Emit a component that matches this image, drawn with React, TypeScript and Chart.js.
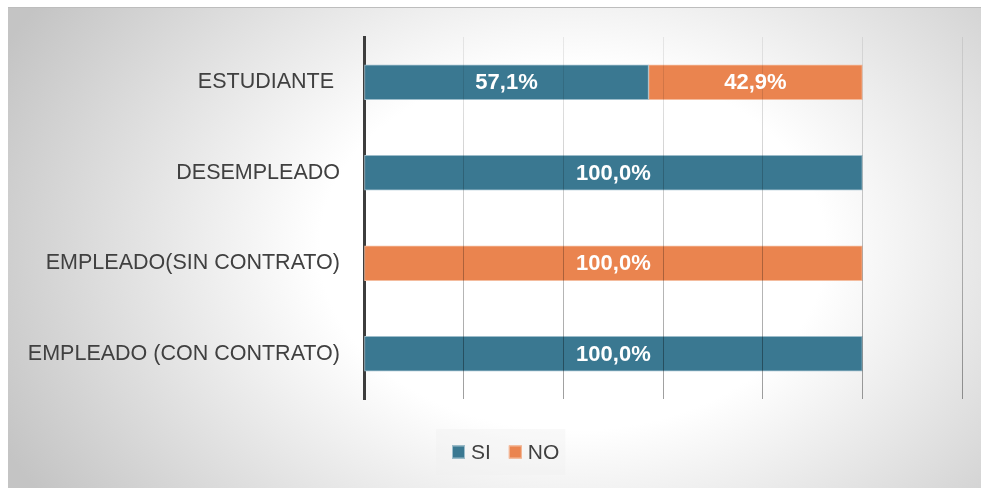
import React, { useEffect, useRef } from 'react';
import { Chart, registerables } from 'chart.js';

Chart.register(...registerables);

// ---- data ----
const categories = ['ESTUDIANTE ', 'DESEMPLEADO', 'EMPLEADO(SIN CONTRATO)', 'EMPLEADO (CON CONTRATO)'];
const seriesNames = ['SI', 'NO'];
const siValues = [57.1, 100, 0, 100];
const noValues = [42.9, 0, 100, 0];
const axisMin = 0;
const axisMax = 120;
const axisStep = 20;

// ---- styles ----
const FONT = "'Liberation Sans', Arial, sans-serif";
const TEAL = '#3A7891';
const TEAL_EDGE = '#9dbdcb';
const ORANGE = '#EA844F';
const ORANGE_EDGE = '#f4bc9e';
const TEXT = '#404040';

const W = 973;
const H = 480;

const barLabelPlugin = {
  id: 'barLabels',
  afterDraw(chart: any) {
    const { ctx } = chart;
    ctx.save();
    ctx.font = `bold 22px ${FONT}`;
    ctx.fillStyle = '#ffffff';
    ctx.textAlign = 'center';
    ctx.textBaseline = 'middle';
    chart.data.datasets.forEach((ds: any, di: number) => {
      const meta = chart.getDatasetMeta(di);
      meta.data.forEach((el: any, i: number) => {
        const v = ds.data[i];
        if (!v) return;
        const p = el.getCenterPoint();
        ctx.fillText(v.toFixed(1).replace('.', ',') + '%', p.x, p.y + 1);
      });
    });
    ctx.restore();
  },
};

const boxLegendPlugin = {
  id: 'boxLegend',
  afterDraw(chart: any) {
    const { ctx } = chart;
    ctx.save();
    ctx.font = `21px ${FONT}`;
    const box = 13;
    const gap = 6;
    const itemGap = 18;
    const items = chart.data.datasets.map((ds: any) => ({
      text: ds.label,
      fill: ds.backgroundColor,
      edge: ds.borderColor,
      w: box + gap + ctx.measureText(ds.label).width,
    }));
    const total = items.reduce((a: number, it: any) => a + it.w, 0) + itemGap * (items.length - 1);
    const startX = 444;
    const cy = 444;
    // legend background box
    ctx.fillStyle = 'rgba(240,240,240,0.4)';
    ctx.fillRect(startX - 16, cy - 23, total + 22, 46);
    let x = startX;
    ctx.textBaseline = 'middle';
    ctx.textAlign = 'left';
    items.forEach((it: any) => {
      ctx.fillStyle = it.fill;
      ctx.fillRect(x, cy - box / 2, box, box);
      ctx.strokeStyle = it.edge;
      ctx.lineWidth = 1;
      ctx.strokeRect(x + 0.5, cy - box / 2 + 0.5, box - 1, box - 1);
      ctx.fillStyle = TEXT;
      ctx.fillText(it.text, x + box + gap, cy + 1);
      x += it.w + itemGap;
    });
    ctx.restore();
  },
};

export default function App() {
  const ref = useRef<HTMLCanvasElement | null>(null);

  useEffect(() => {
    if (!ref.current) return;
    const chart = new Chart(ref.current, {
      type: 'bar',
      data: {
        labels: categories,
        datasets: [
          {
            label: seriesNames[0],
            data: siValues,
            backgroundColor: TEAL,
            borderColor: TEAL_EDGE,
            borderWidth: 1,
            borderSkipped: false,
            barThickness: 35,
          },
          {
            label: seriesNames[1],
            data: noValues,
            backgroundColor: ORANGE,
            borderColor: ORANGE_EDGE,
            borderWidth: 1,
            borderSkipped: false,
            barThickness: 35,
          },
        ],
      },
      options: {
        indexAxis: 'y',
        responsive: false,
        animation: false,
        devicePixelRatio: 1,
        layout: { padding: { left: 0, right: 19, top: 29, bottom: 89 } },
        plugins: {
          legend: { display: false },
          tooltip: { enabled: false },
        },
        scales: {
          x: {
            stacked: true,
            min: axisMin,
            max: axisMax,
            ticks: { display: false, stepSize: axisStep },
            border: { display: false },
            grid: {
              drawTicks: false,
              z: 1,
              lineWidth: 1,
              color: (c: any) => {
                if (c.index === 0) return 'rgba(0,0,0,0)';
                const area = c.chart.chartArea;
                if (!area) return 'rgba(0,0,0,0.2)';
                const g = c.chart.ctx.createLinearGradient(0, area.top, 0, area.bottom);
                g.addColorStop(0, 'rgba(0,0,0,0.07)');
                g.addColorStop(1, 'rgba(0,0,0,0.38)');
                return g;
              },
            },
            afterFit: (s: any) => {
              s.height = 0;
              s.paddingLeft = 0;
              s.paddingRight = 0;
            },
          },
          y: {
            stacked: true,
            grid: { display: false, drawTicks: false },
            border: { display: true, color: '#3d3d3d', width: 3 },
            ticks: {
              padding: 24,
              color: TEXT,
              font: { family: FONT, size: 21.5 },
            },
            afterFit: (s: any) => {
              s.width = 356;
              s.paddingTop = 0;
              s.paddingBottom = 0;
            },
          },
        },
      },
      plugins: [barLabelPlugin, boxLegendPlugin],
    } as any);
    return () => chart.destroy();
  }, []);

  return (
    <div
      style={{
        position: 'fixed',
        left: 8,
        top: 7,
        width: W,
        height: H + 1,
        boxSizing: 'border-box',
        borderTop: '1px solid #bdbdbd',
        overflow: 'hidden',
        background:
          'radial-gradient(ellipse 65% 95% at 58% 50%, #ffffff 0%, #ffffff 40%, #c4c4c4 100%)',
      }}
    >
      <canvas
        ref={ref}
        width={W}
        height={H}
        style={{ position: 'absolute', left: 0, top: 0, width: W, height: H }}
      />
    </div>
  );
}
